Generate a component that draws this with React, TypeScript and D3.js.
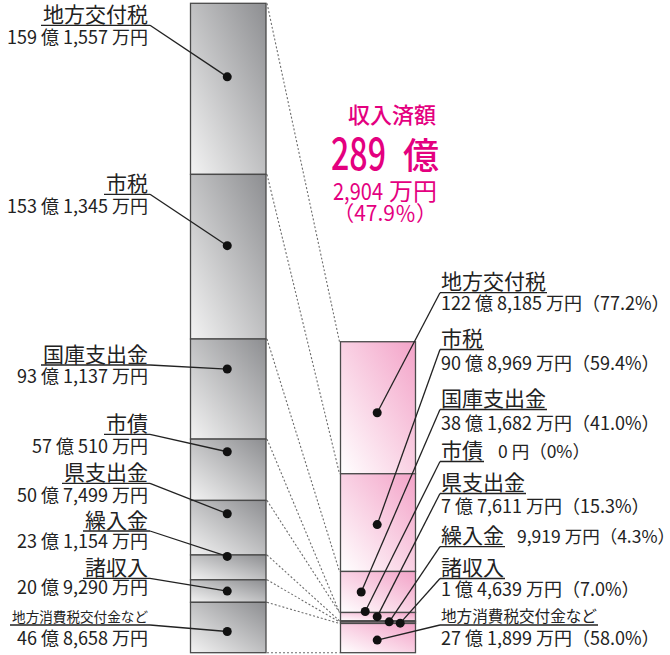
import React from 'react';
import * as d3 from 'd3';

// ---- data (万円) ----
const categories = ['地方交付税', '市税', '国庫支出金', '市債', '県支出金', '繰入金', '諸収入', '地方消費税交付金など'];
const budgetValues = [1591557, 1531345, 931137, 570510, 507499, 231154, 209290, 468658];
const receivedValues = [1228185, 908969, 381682, 0, 77611, 9919, 14639, 271899];
const headerTitle = '収入済額';

// ---- layout ----
const W = 670, H = 655;
const barTop = 3.3, barBottom = 652.7;
const leftX0 = 190.5, leftX1 = 266;
const rightX0 = 340.5, rightX1 = 415.5;
const MAGENTA = '#e4007f';
const FONT = "'Noto Sans CJK JP', 'Noto Sans', sans-serif";

// left label layout: name baseline, underline y, value baseline, name font
const leftLayout = [
  { ny: 22, uy: 25.3, vy: 43.5, fs: 21 },
  { ny: 191, uy: 194.3, vy: 213, fs: 21 },
  { ny: 362, uy: 365, vy: 383, fs: 21 },
  { ny: 431, uy: 434.3, vy: 452.7, fs: 21 },
  { ny: 480, uy: 483.3, vy: 501.7, fs: 21 },
  { ny: 528, uy: 531, vy: 548, fs: 21 },
  { ny: 575, uy: 578.3, vy: 593.5, fs: 21 },
  { ny: 622, uy: 625, vy: 645, fs: 13.6 },
];
const leftDotDy = [-12, -11, -20, -18, -14, -11, 0, 4];

const rightLayout = [
  { ny: 289, uy: 292.7, vy: 309.5, fs: 21, inline: 0 },
  { ny: 346, uy: 349.5, vy: 370, fs: 21, inline: 0 },
  { ny: 406, uy: 409.5, vy: 430, fs: 21, inline: 0 },
  { ny: 457.5, uy: 461.5, vy: 457.5, fs: 21, inline: 498 },
  { ny: 490, uy: 493.5, vy: 513, fs: 21, inline: 0 },
  { ny: 543, uy: 546.7, vy: 543, fs: 21, inline: 517 },
  { ny: 575, uy: 578.5, vy: 596, fs: 21, inline: 0 },
  { ny: 622, uy: 625, vy: 645, fs: 15.6, inline: 0 },
];
const rightDotDx = [0, 0, -16, -12, 0, 12, 23, 0];
const rightDotDy = [5, 2, 0, -1, 0, 0.5, 0.5, 2];

const fmtComma = d3.format(',');
function yen(v: number): string {
  if (v === 0) return '0 円';
  const oku = Math.floor(v / 10000);
  const man = v % 10000;
  return (oku > 0 ? `${oku} 億 ` : '') + `${fmtComma(man)} 万円`;
}
function rate(r: number): string {
  return r === 0 ? '0%' : d3.format('.1%')(r);
}

export default function App() {
  const totalBudget = d3.sum(budgetValues);
  const totalReceived = d3.sum(receivedValues);
  const y = d3.scaleLinear().domain([0, totalBudget]).range([barTop, barBottom]);

  const cumB: number[] = [0];
  budgetValues.forEach((v) => cumB.push(cumB[cumB.length - 1] + v));
  const cumR: number[] = [0];
  receivedValues.forEach((v) => cumR.push(cumR[cumR.length - 1] + v));
  // right bar is bottom-aligned with left bar
  const rOff = totalBudget - totalReceived;
  const yR = (v: number) => y(v + rOff);

  const leftCx = (leftX0 + leftX1) / 2 - 1;
  const rightCx = (rightX0 + rightX1) / 2 - 0.8;

  const totOku = Math.floor(totalReceived / 10000);
  const totMan = totalReceived % 10000;

  return (
    <svg width={W} height={H} style={{ position: 'absolute', left: 0, top: 0, fontFamily: FONT }}>
      <defs>
        <linearGradient id="gGray" x1="1" y1="0" x2="0" y2="1">
          <stop offset="0" stopColor="#8d8e91" />
          <stop offset="1" stopColor="#f3f3f3" />
        </linearGradient>
        <linearGradient id="gPink" x1="1" y1="0" x2="0" y2="1">
          <stop offset="0" stopColor="#f3a3c8" />
          <stop offset="1" stopColor="#ffffff" />
        </linearGradient>
      </defs>
      <rect width={W} height={H} fill="#fff" />

      {/* dashed connectors */}
      {cumB.map((c, i) => (
        <line key={'dc' + i} x1={leftX1 + 1} y1={y(c)} x2={rightX0 - 1} y2={yR(cumR[i])}
          stroke="#6d6d6d" strokeWidth={1.1} strokeDasharray="2,2" />
      ))}

      {/* left bar */}
      {budgetValues.map((v, i) => (
        <rect key={'lb' + i} x={leftX0} y={y(cumB[i])} width={leftX1 - leftX0} height={y(cumB[i + 1]) - y(cumB[i])}
          fill="url(#gGray)" stroke="#4a4a4a" strokeWidth={1.3} />
      ))}
      {/* right bar */}
      {receivedValues.map((v, i) => (
        <rect key={'rb' + i} x={rightX0} y={yR(cumR[i])} width={rightX1 - rightX0} height={Math.max(0, yR(cumR[i + 1]) - yR(cumR[i]))}
          fill="url(#gPink)" stroke="#4a4a4a" strokeWidth={1.3} />
      ))}

      {/* left labels */}
      {categories.map((c, i) => {
        const L = leftLayout[i];
        const dotY = (y(cumB[i]) + y(cumB[i + 1])) / 2 + leftDotDy[i];
        const nameW = c.length * L.fs;
        return (
          <g key={'ll' + i}>
            <text x={148} y={L.ny} textAnchor="end" fontSize={L.fs} fill="#222">{c}</text>
            <line x1={148 - nameW - 2} y1={L.uy} x2={150} y2={L.uy} stroke="#222" strokeWidth={1.3} />
            <line x1={150} y1={L.uy} x2={leftCx} y2={dotY} stroke="#222" strokeWidth={1.3} />
            <circle cx={leftCx} cy={dotY} r={4.5} fill="#111" />
            <text x={148} y={L.vy} textAnchor="end" fontSize={18} fill="#222">{yen(budgetValues[i])}</text>
          </g>
        );
      })}

      {/* right labels */}
      {categories.map((c, i) => {
        const L = rightLayout[i];
        const dotY = (yR(cumR[i]) + yR(cumR[i + 1])) / 2 + rightDotDy[i];
        const dotX = rightCx + rightDotDx[i];
        const nameW = c.length * L.fs;
        const label = `${yen(receivedValues[i])}（${rate(receivedValues[i] / budgetValues[i])}）`;
        return (
          <g key={'rl' + i}>
            <line x1={dotX} y1={dotY} x2={440} y2={L.uy} stroke="#222" strokeWidth={1.3} />
            <line x1={440} y1={L.uy} x2={441 + nameW + 1} y2={L.uy} stroke="#222" strokeWidth={1.3} />
            <circle cx={dotX} cy={dotY} r={4.5} fill="#111" />
            <text x={441} y={L.ny} fontSize={L.fs} fill="#222">{c}</text>
            <text x={L.inline || 441} y={L.vy} fontSize={L.inline ? 17.5 : 18} fill="#222">{label}</text>
          </g>
        );
      })}

      {/* header */}
      <g fill={MAGENTA}>
        <text x={392} y={123} textAnchor="middle" fontSize={22} fontWeight={500}>{headerTitle}</text>
        <text x={331} y={170} fontSize={44} fontWeight={500} textLength={55} lengthAdjust="spacingAndGlyphs">{String(totOku)}</text>
        <text x={403} y={169} fontSize={36} fontWeight={500}>億</text>
        <text x={333} y={200} fontSize={24} textLength={50} lengthAdjust="spacingAndGlyphs">{fmtComma(totMan)}</text>
        <text x={389} y={200} fontSize={24}>万円</text>
        <text x={437} y={221} textAnchor="end" fontSize={21}>{`（${d3.format('.1f')(totalReceived / totalBudget * 100)}％）`}</text>
      </g>
    </svg>
  );
}
